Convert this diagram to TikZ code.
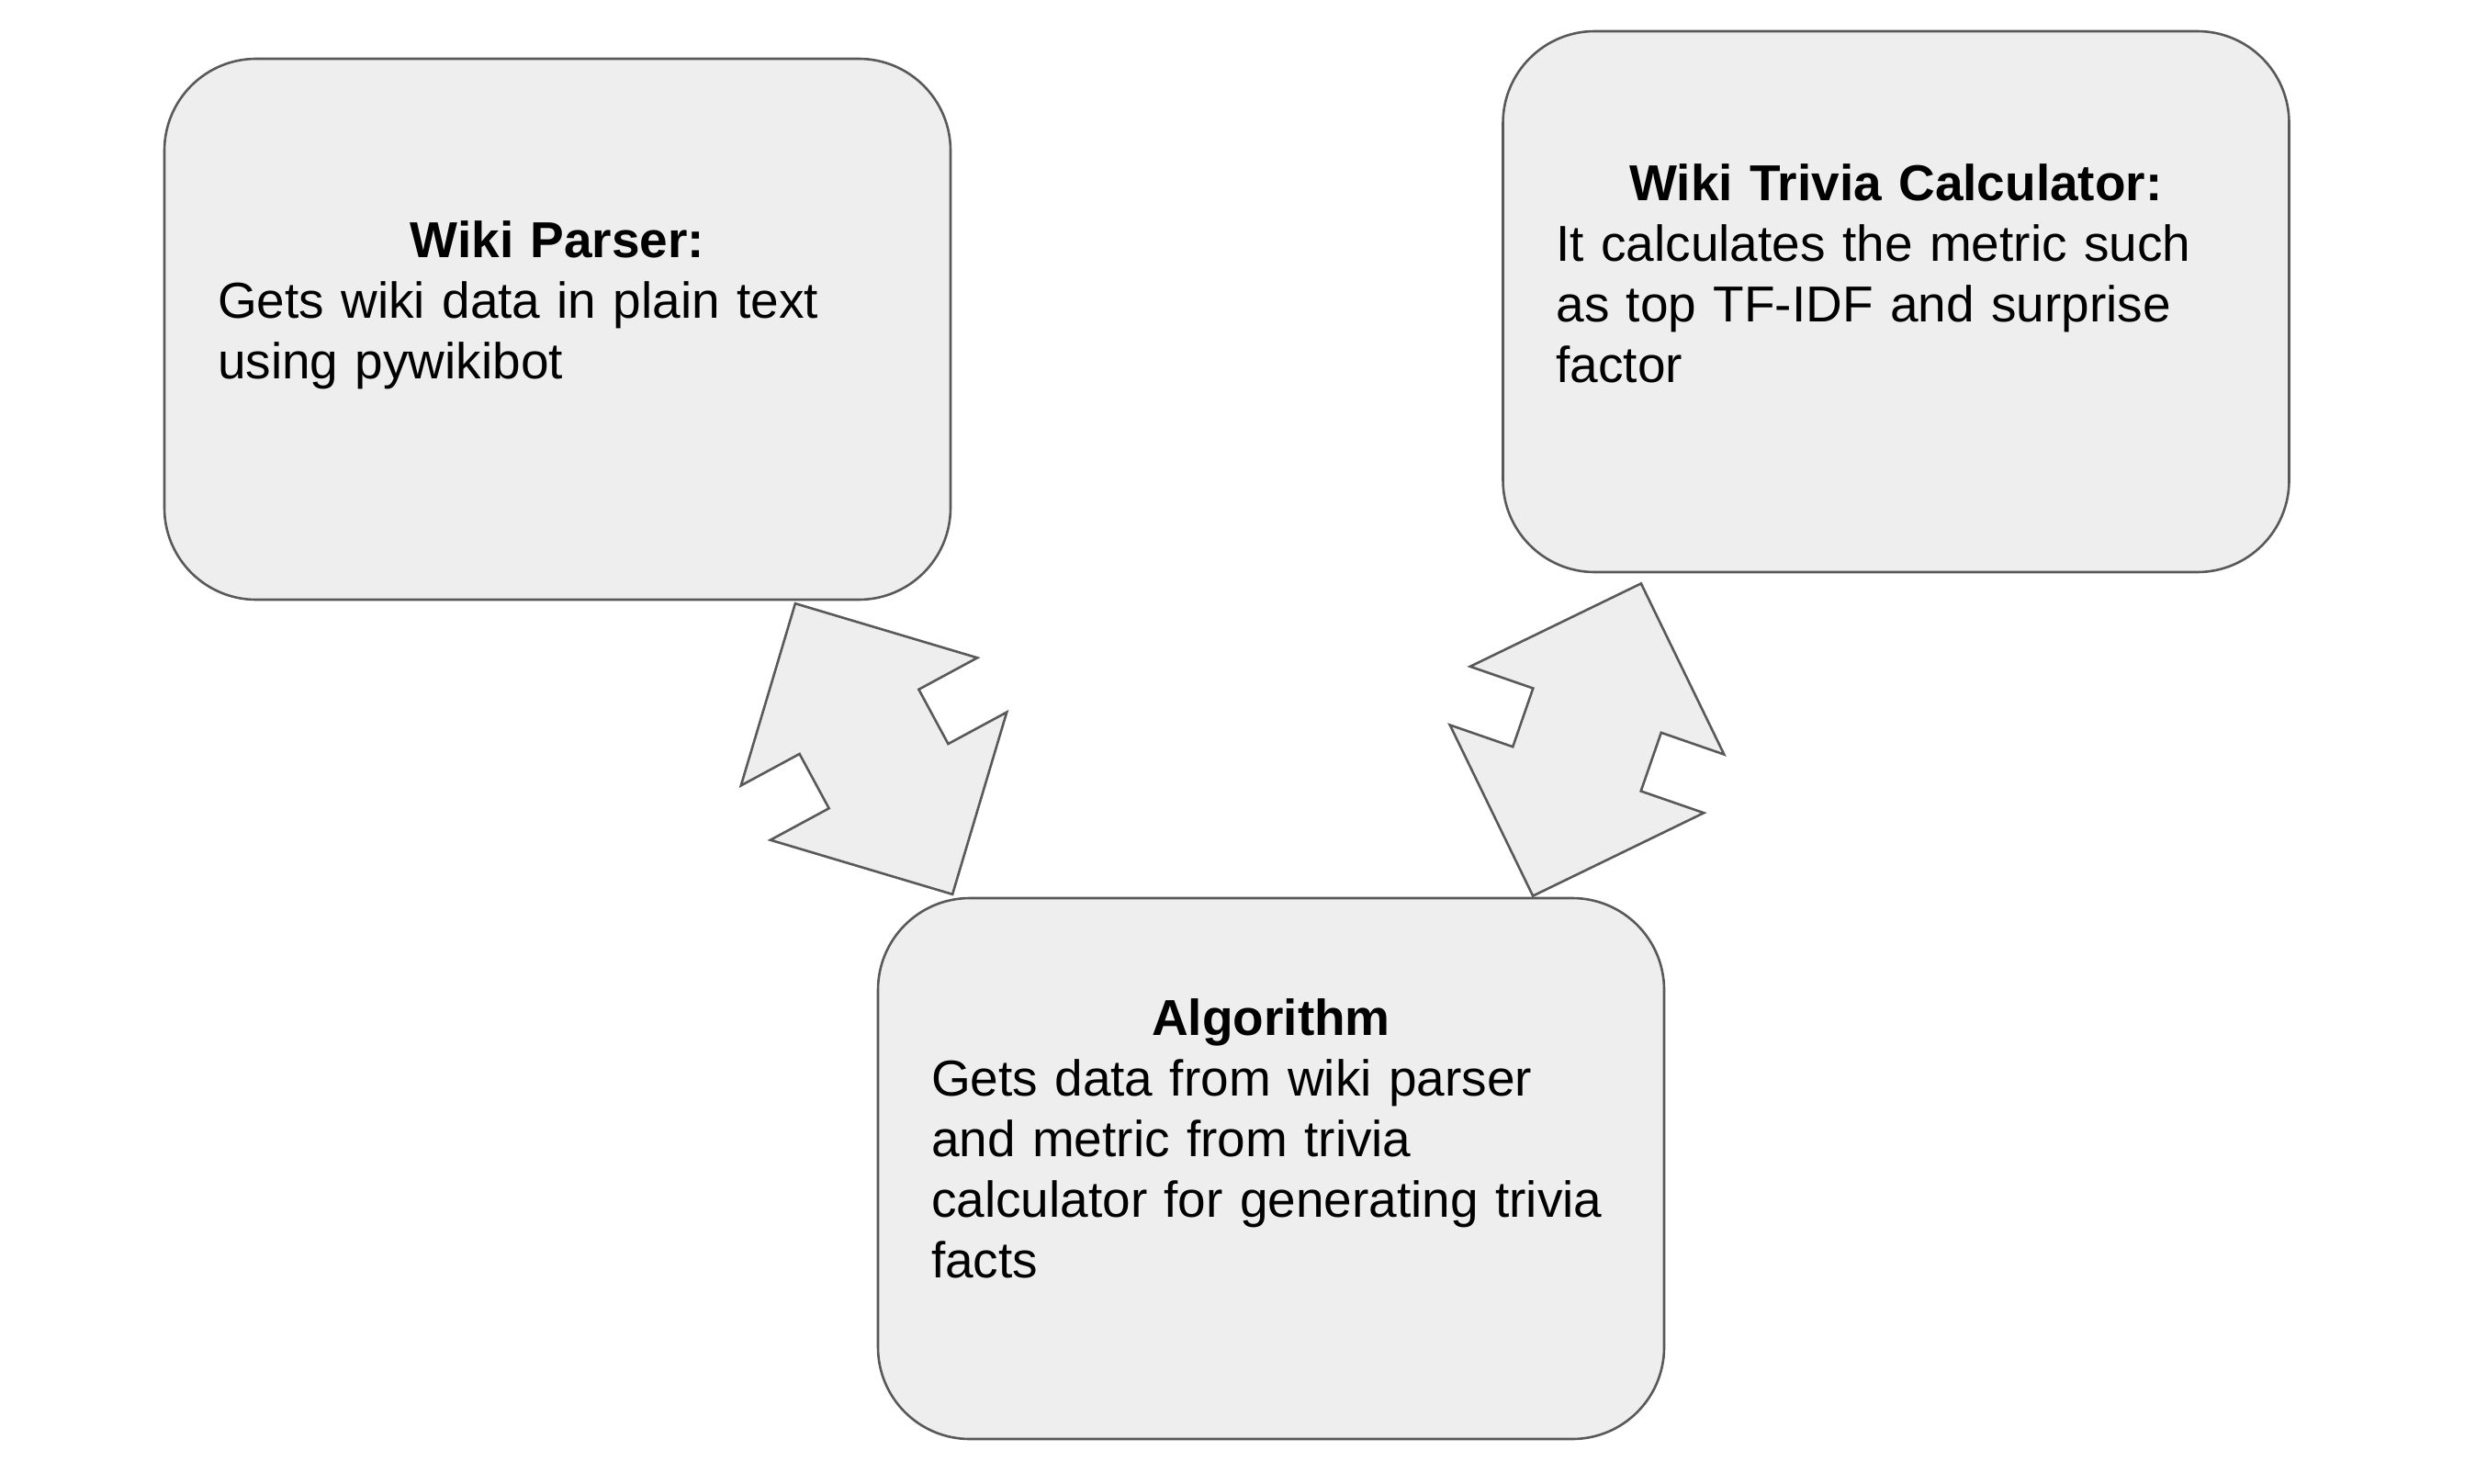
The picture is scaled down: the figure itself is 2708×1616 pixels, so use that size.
\documentclass[tikz,border=0pt]{standalone}
\usepackage{fontspec}
\setmainfont{Liberation Sans}
\usepackage{xcolor}
\usetikzlibrary{shapes.arrows}
\definecolor{boxfill}{HTML}{EEEEEE}
\definecolor{boxline}{HTML}{595959}
\tikzset{
  infobox/.style={draw=boxline, fill=boxfill, line width=0.65pt, rounded corners=25pt,
    minimum width=214pt, minimum height=147.25pt, inner sep=0pt},
  infotext/.style={text width=185pt, inner sep=0pt, align=left, anchor=north,
    font=\fontsize{13.75}{16.5}\selectfont},
  linkarrow/.style={double arrow, draw=boxline, fill=boxfill, line width=0.65pt,
    double arrow tip angle=90, double arrow head extend=18.125pt,
    minimum height=90pt, inner xsep=0pt, inner ysep=18.125pt}
}
\begin{document}
\begin{tikzpicture}[x=0.25pt, y=-0.25pt]
\useasboundingbox (0,0) rectangle (2708,1616);
% boxes
\node [infobox] (parser) at (607,358.5) {};
\node [infobox] (trivia) at (2064.5,328.5) {};
\node [infobox] (algo) at (1384,1272.5) {};
% texts
\node [infotext] (parsertext) at (607,233.8) {{\centering\bfseries\strut Wiki Parser:\par}Gets wiki data in plain text\\using pywikibot};
\node [infotext] (triviatext) at (2064.5,171.8) {{\centering\bfseries\strut Wiki Trivia Calculator:\par}It calculates the metric such\\as top TF-IDF and surprise\\factor};
\node [infotext] (algotext) at (1384,1080.8) {{\centering\bfseries\strut Algorithm\par}Gets data from wiki parser\\and metric from trivia\\calculator for generating trivia\\facts};
% block arrows
\node [linkarrow, rotate=118.4] (parserlink) at (951.5,815.5) {};
\node [linkarrow, rotate=70.9] (trivialink) at (1728,805.5) {};
\end{tikzpicture}
\end{document}
